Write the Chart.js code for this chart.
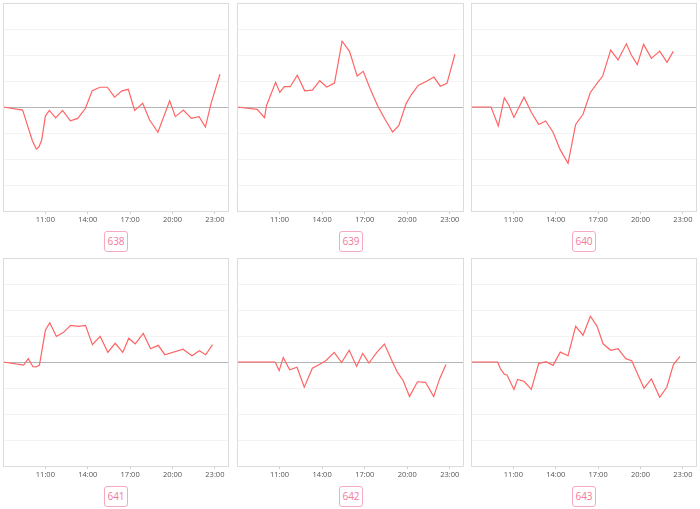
<!DOCTYPE html>
<html>
<head>
<meta charset="utf-8">
<script src="https://cdn.jsdelivr.net/npm/chart.js@4/dist/chart.umd.min.js"></script>
<style>
  html, body { margin: 0; padding: 0; background: #fff; }
  body { width: 700px; height: 509px; position: relative; overflow: hidden; font-family: "Open Sans", "DejaVu Sans", sans-serif; }
  canvas { position: absolute; }
  .tag { position: absolute; width: 22px; height: 19px; border: 1px solid #f7a9c0; border-radius: 3px;
         color: #f27a9c; font-size: 10px; line-height: 19px; text-align: center; font-family: "Open Sans", sans-serif; }
</style>
</head>
<body>
<script>
// ---- data ----
const panelLabels = ['638', '639', '640', '641', '642', '643'];
const tickHours = [11, 14, 17, 20, 23];

const hours638 = [8, 9.39, 9.8, 10.08, 10.36, 10.55, 10.74, 11.0, 11.28, 11.73, 12.22, 12.77, 13.29, 13.83, 14.32, 14.87, 15.39, 15.9, 16.42, 16.87, 17.32, 17.89, 18.38, 18.97, 19.8, 20.2, 20.77, 21.33, 21.88, 22.33, 22.73, 23.36];
const values638 = [0, -0.12, -0.82, -1.3, -1.62, -1.53, -1.27, -0.35, -0.13, -0.42, -0.13, -0.53, -0.44, -0.06, 0.63, 0.76, 0.76, 0.38, 0.62, 0.68, -0.13, 0.14, -0.5, -0.97, 0.24, -0.37, -0.12, -0.44, -0.37, -0.77, 0.14, 1.26];

const hours639 = [8, 9.42, 9.94, 10.08, 10.72, 11.02, 11.33, 11.75, 12.25, 12.77, 13.31, 13.83, 14.33, 14.87, 15.41, 15.93, 16.47, 16.9, 17.37, 17.91, 18.46, 18.97, 19.4, 19.93, 20.27, 20.77, 21.36, 21.88, 22.33, 22.8, 23.36];
const values639 = [0, -0.09, -0.41, 0.05, 0.95, 0.56, 0.78, 0.78, 1.22, 0.62, 0.65, 1.01, 0.77, 0.92, 2.53, 2.14, 1.19, 1.37, 0.72, 0.05, -0.5, -0.96, -0.72, 0.14, 0.46, 0.83, 0.99, 1.15, 0.8, 0.91, 2.03];

const hours640 = [8, 9.42, 9.93, 10.36, 10.69, 11.04, 11.75, 12.27, 12.79, 13.28, 13.8, 14.32, 14.87, 15.41, 15.93, 16.45, 16.87, 17.32, 17.89, 18.41, 19.0, 19.35, 19.77, 20.22, 20.77, 21.36, 21.88, 22.32];
const values640 = [0, 0, -0.73, 0.35, 0.06, -0.4, 0.38, -0.2, -0.67, -0.54, -0.96, -1.65, -2.17, -0.67, -0.28, 0.56, 0.87, 1.19, 2.19, 1.81, 2.43, 2.0, 1.63, 2.41, 1.87, 2.15, 1.72, 2.14];

const hours641 = [8, 9.46, 9.79, 10.12, 10.35, 10.58, 11.0, 11.31, 11.78, 12.26, 12.79, 13.34, 13.84, 14.33, 14.88, 15.42, 15.94, 16.48, 16.9, 17.36, 17.93, 18.45, 18.99, 19.46, 20.74, 21.38, 21.9, 22.35, 22.83];
const values641 = [0, -0.12, 0.13, -0.18, -0.19, -0.12, 1.22, 1.51, 0.98, 1.13, 1.41, 1.37, 1.41, 0.67, 0.99, 0.37, 0.72, 0.37, 0.91, 0.7, 1.1, 0.51, 0.64, 0.28, 0.49, 0.24, 0.43, 0.28, 0.67];

const hours642 = [8, 10.69, 10.97, 11.26, 11.71, 12.23, 12.74, 13.31, 13.83, 14.26, 14.85, 15.37, 15.91, 16.43, 16.86, 17.3, 17.87, 18.39, 18.88, 19.31, 19.71, 20.16, 20.72, 21.29, 21.86, 22.28, 22.73];
const values642 = [0, 0, -0.33, 0.17, -0.3, -0.2, -0.97, -0.24, -0.09, 0.05, 0.37, -0.02, 0.45, -0.17, 0.33, -0.04, 0.38, 0.69, 0.1, -0.4, -0.71, -1.33, -0.76, -0.78, -1.33, -0.65, -0.1];

const hours643 = [8, 9.89, 10.08, 10.36, 10.55, 11.04, 11.3, 11.75, 12.27, 12.79, 13.31, 13.81, 14.32, 14.87, 15.41, 15.93, 16.45, 16.92, 17.35, 17.89, 18.41, 18.95, 19.38, 19.7, 20.25, 20.77, 21.36, 21.86, 22.33, 22.8];
const values643 = [0, 0, -0.26, -0.47, -0.5, -1.06, -0.67, -0.74, -1.05, -0.06, 0.01, -0.13, 0.38, 0.24, 1.37, 1.03, 1.76, 1.38, 0.7, 0.45, 0.51, 0.13, 0.05, -0.35, -1.01, -0.65, -1.36, -0.97, -0.1, 0.22];

const seriesHours = [hours638, hours639, hours640, hours641, hours642, hours643];
const seriesValues = [values638, values639, values640, values641, values642, values643];

// ---- layout ----
const colLeft = [3, 237, 471];
const colRight = [229, 464, 697];
const rowTop = [3, 258];
const plotH = 208;
const axisH = 17;

const frame = {
  id: 'frame',
  afterDraw(chart) {
    const a = chart.chartArea, c = chart.ctx;
    c.save();
    c.strokeStyle = '#dcdcdc';
    c.lineWidth = 1;
    c.strokeRect(Math.round(a.left) + 0.5, Math.round(a.top) + 0.5, Math.round(a.right - a.left) - 1, Math.round(a.bottom - a.top));
    c.restore();
  }
};

for (let i = 0; i < 6; i++) {
  const col = i % 3, row = Math.floor(i / 3);
  const w = colRight[col] - colLeft[col];
  const cv = document.createElement('canvas');
  cv.width = w + 2;
  cv.height = plotH + 1 + axisH;
  cv.style.left = (colLeft[col] - 1) + 'px';
  cv.style.top = (rowTop[row] - 1) + 'px';
  cv.style.width = cv.width + 'px';
  cv.style.height = cv.height + 'px';
  document.body.appendChild(cv);

  const pts = seriesHours[i].map((h, k) => ({ x: h, y: seriesValues[i][k] }));

  new Chart(cv, {
    type: 'line',
    data: { datasets: [{ data: pts, borderColor: '#ff6464', borderWidth: 1.2, pointRadius: 0, tension: 0, fill: false }] },
    options: {
      responsive: false,
      animation: false,
      events: [],
      layout: { padding: { left: 1, right: 1, top: 1, bottom: 0 } },
      plugins: { legend: { display: false }, tooltip: { enabled: false } },
      scales: {
        x: {
          type: 'linear', min: 8, max: 24,
          afterBuildTicks: s => { s.ticks = tickHours.map(v => ({ value: v })); },
          afterFit: s => { s.height = axisH; },
          grid: { drawOnChartArea: false, drawTicks: true, tickLength: 3, color: '#d0d0d0' },
          border: { display: false },
          ticks: { padding: 1, maxRotation: 0, autoSkip: false, color: '#555',
                   font: { size: 7.5, family: '"Open Sans", sans-serif' },
                   callback: v => v + ':00' }
        },
        y: {
          min: -4, max: 4,
          afterFit: s => { s.width = 0; },
          ticks: { display: false, stepSize: 1 },
          border: { display: false },
          grid: { drawTicks: false, color: c => (c.tick && c.tick.value === 0) ? '#b4b4b4' : '#f3f3f3', lineWidth: 1 }
        }
      }
    },
    plugins: [frame]
  });

  const tag = document.createElement('div');
  tag.className = 'tag';
  tag.textContent = panelLabels[i];
  const cx = (colLeft[col] + colRight[col]) / 2;
  tag.style.left = Math.round(cx - 12) + 'px';
  tag.style.top = (row === 0 ? 231 : 486) + 'px';
  document.body.appendChild(tag);
}
</script>
</body>
</html>
